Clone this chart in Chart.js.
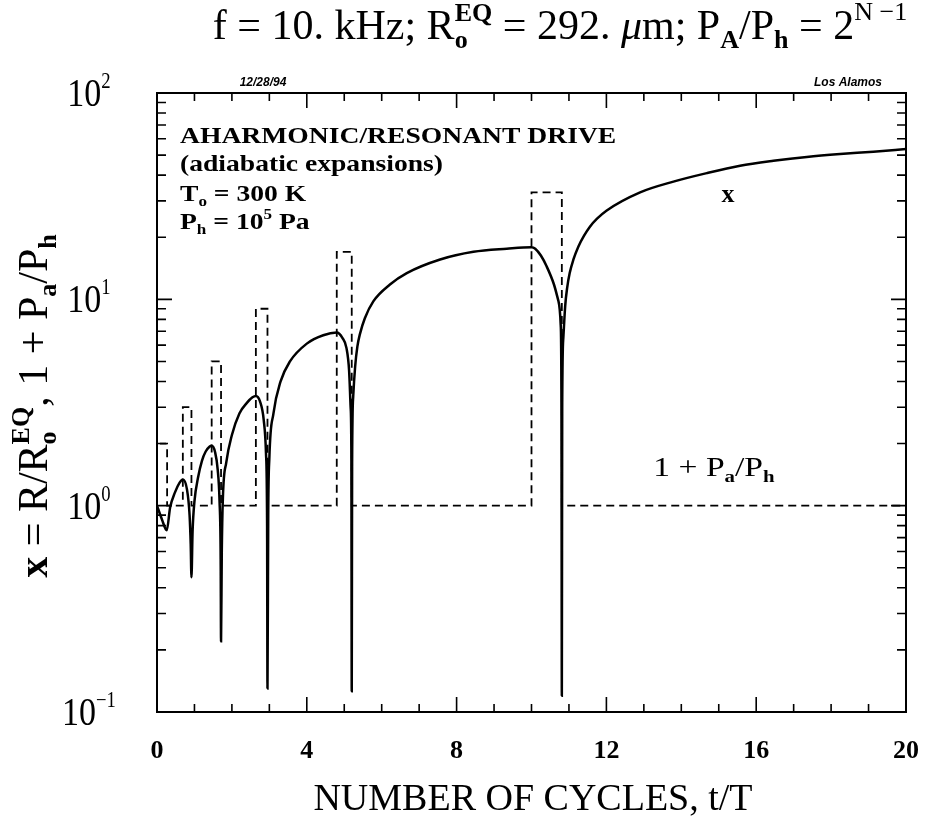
<!DOCTYPE html>
<html>
<head>
<meta charset="utf-8">
<script src="https://cdn.jsdelivr.net/npm/chart.js@4.4.1/dist/chart.umd.min.js"></script>
<style>
    html, body { margin: 0; padding: 0; background: #fff; }
    #wrap { width: 926px; height: 822px; }
</style>
</head>
<body>
<div id="wrap"><canvas id="bubbleChart" width="926" height="822"></canvas></div>
<script>
// --- data ---

// bubble radius x = R/Ro_EQ against t/T
const tCurve = [0, 0.13, 0.26, 0.35, 0.48, 0.6, 0.69, 0.8, 0.87, 0.9, 0.92, 0.95, 1.0, 1.1, 1.2, 1.3, 1.4, 1.46,
    1.55, 1.62, 1.67, 1.70, 1.71, 1.73, 1.76, 1.85, 2.0, 2.2, 2.4, 2.55, 2.64, 2.75, 2.85, 2.91, 2.94, 2.95,
    2.97, 3.0, 3.11, 3.3, 3.55, 4.0, 4.44, 4.8, 4.95, 5.06, 5.13, 5.17, 5.19, 5.2, 5.21, 5.24, 5.29, 5.35,
    5.42, 5.55, 5.78, 6.22, 6.67, 7.56, 8.45, 9.34, 10.0, 10.1, 10.25, 10.4, 10.6, 10.72, 10.78, 10.8, 10.81,
    10.82, 10.85, 10.9, 10.95, 11.02, 11.12, 11.25, 11.4, 11.56, 11.75, 12.0, 12.9, 13.79, 14.68, 15.57,
    16.46, 17.35, 18.24, 19.13, 20];
const xCurve = [1.0, 0.86, 0.76, 0.98, 1.16, 1.29, 1.34, 1.2, 0.9, 0.65, 0.45, 0.75, 1.05, 1.38, 1.65, 1.83, 1.93, 1.95,
    1.82, 1.5, 1.05, 0.55, 0.22, 0.6, 1.1, 1.62, 2.2, 2.8, 3.15, 3.35, 3.4, 3.2, 2.6, 1.8, 0.8, 0.13,
    0.9, 1.7, 2.8, 4.0, 5.0, 6.1, 6.7, 6.9, 6.5, 5.8, 4.5, 3.0, 1.8, 0.126, 1.6, 3.4, 4.7, 5.9,
    6.8, 8.1, 9.8, 11.8, 13.4, 15.6, 17.0, 17.6, 17.9, 17.6, 16.3, 14.5, 11.8, 9.8, 7.5, 3.0, 0.12,
    3.0, 6.5, 9.3, 11.3, 13.4, 15.6, 18.0, 20.3, 22.5, 24.6, 26.9, 33.0, 37.2, 40.9, 44.4,
    46.9, 49.0, 50.6, 51.9, 53.5];

// drive pulses: 1 + Pa/Ph, with Pa/Ph = 2^(N-1)
const pulseStart = [0, 0.69, 1.46, 2.64, 4.8, 10.0];
const pulseEnd = [0.27, 0.92, 1.71, 2.95, 5.2, 10.81];
const pulseLevel = [2, 3, 5, 9, 17, 33];
const driveBase = 1;
const tMax = 20;

// axis ticks
const xTickLabels = [0, 4, 8, 12, 16, 20];
const xMinorTicks = [1, 2, 3, 5, 6, 7, 9, 10, 11, 13, 14, 15, 17, 18, 19];
const yDecades = [0.1, 1, 10, 100];
const yDecadeExp = ['\u22121', '0', '1', '2'];

const SERIF = '"Liberation Serif", "Times New Roman", serif';

// step trace for the dashed drive curve
function buildDrive() {
    const pts = [];
    pulseStart.forEach((t0, i) => {
        pts.push({ x: t0, y: driveBase });
        pts.push({ x: t0, y: pulseLevel[i] });
        pts.push({ x: pulseEnd[i], y: pulseLevel[i] });
        pts.push({ x: pulseEnd[i], y: driveBase });
    });
    pts.push({ x: tMax, y: driveBase });
    return pts;
}

function fontStr(size, o) {
    return (o.italic ? 'italic ' : '') + (o.bold ? 'bold ' : '') + size + 'px ' + (o.family || SERIF);
}

// draws a run list with sub/superscripts; y is the baseline
function drawRich(ctx, runs, x, y, o) {
    const size = o.size;
    const small = size * (o.small || 0.62);
    const pieces = [];
    let w = 0;
    runs.forEach(r => {
        if (typeof r === 'string') r = { t: r };
        const st = Object.assign({}, o, r);
        if (r.stack) {
            ctx.font = fontStr(small, st);
            pieces.push({ t: r.stack[0], x: w, dy: -size * 0.42, s: small, st });
            pieces.push({ t: r.stack[1], x: w, dy: size * 0.22, s: small, st });
            w += Math.max(ctx.measureText(r.stack[0]).width, ctx.measureText(r.stack[1]).width);
        } else {
            const s = (r.sub || r.sup) ? small : size;
            ctx.font = fontStr(s, st);
            pieces.push({ t: r.t, x: w, dy: r.sub ? size * 0.22 : (r.sup ? -size * 0.45 : 0), s, st });
            w += ctx.measureText(r.t).width;
        }
    });
    ctx.save();
    ctx.translate(x, y);
    if (o.rot) ctx.rotate(o.rot);
    ctx.scale(o.sx || 1, o.sy || 1);
    const x0 = o.align === 'center' ? -w / 2 : (o.align === 'right' ? -w : 0);
    ctx.textAlign = 'left';
    ctx.textBaseline = 'alphabetic';
    ctx.fillStyle = '#000';
    pieces.forEach(p => {
        ctx.font = fontStr(p.s, p.st);
        ctx.fillText(p.t, x0 + p.x, p.dy);
    });
    ctx.restore();
}

// frame, inward ticks and all the lettering
const frameAndText = {
    id: 'frameAndText',
    afterDraw(chart) {
        const ctx = chart.ctx;
        const a = chart.chartArea;
        const xs = chart.scales.x, ys = chart.scales.y;

        ctx.save();
        ctx.strokeStyle = '#000';
        ctx.lineWidth = 2;
        ctx.strokeRect(a.left, a.top, a.right - a.left, a.bottom - a.top);

        ctx.lineWidth = 1.6;
        ctx.beginPath();
        const xTick = (v, len) => {
            const px = xs.getPixelForValue(v);
            ctx.moveTo(px, a.bottom); ctx.lineTo(px, a.bottom - len);
            ctx.moveTo(px, a.top); ctx.lineTo(px, a.top + len);
        };
        xTickLabels.forEach(v => xTick(v, 15));
        xMinorTicks.forEach(v => xTick(v, 8));
        const yTick = (v, len) => {
            const py = ys.getPixelForValue(v);
            ctx.moveTo(a.left, py); ctx.lineTo(a.left + len, py);
            ctx.moveTo(a.right, py); ctx.lineTo(a.right - len, py);
        };
        yDecades.forEach((d, i) => {
            yTick(d, 15);
            if (i < yDecades.length - 1) {
                for (let m = 2; m <= 9; m++) yTick(d * m, 9);
            }
        });
        ctx.stroke();
        ctx.restore();

        // tick labels
        xTickLabels.forEach(v => {
            drawRich(ctx, [String(v)], xs.getPixelForValue(v), 758, { size: 26, bold: true, align: 'center' });
        });
        yDecades.forEach((d, i) => {
            const py = ys.getPixelForValue(d);
            drawRich(ctx, ['10', { t: yDecadeExp[i], sup: true }], 89, py + 13,
                { size: 34, sy: 1.18, align: 'center', small: 0.55 });
        });

        // titles
        drawRich(ctx, ['f = 10. kHz; R', { stack: ['EQ', 'o'], bold: true }, ' = 292. ', { t: '\u03bc', italic: true },
            'm; P', { t: 'A', sub: true, bold: true }, '/P', { t: 'h', sub: true, bold: true }, ' = 2', { t: 'N \u22121', sup: true }],
            560, 39, { size: 42, align: 'center' });
        drawRich(ctx, ['NUMBER OF CYCLES, t/T'], 533, 810, { size: 38, align: 'center' });
        drawRich(ctx, [{ t: 'x', bold: true }, ' = R/R', { stack: ['EQ', 'o'], bold: true }, ', 1 + P',
            { t: 'a', sub: true, bold: true }, '/P', { t: 'h', sub: true, bold: true }],
            47, 406, { size: 42, align: 'center', rot: -Math.PI / 2 });

        // annotations inside the frame
        const note = { size: 23, bold: true, sx: 1.2 };
        drawRich(ctx, ['AHARMONIC/RESONANT DRIVE'], 180, 143, note);
        drawRich(ctx, ['(adiabatic expansions)'], 180, 171, note);
        drawRich(ctx, ['T', { t: 'o', sub: true }, ' = 300 K'], 180, 201, note);
        drawRich(ctx, ['P', { t: 'h', sub: true }, ' = 10', { t: '5', sup: true }, ' Pa'], 180, 229, note);
        drawRich(ctx, ['x'], 728, 202, { size: 26, bold: true, align: 'center' });
        drawRich(ctx, ['1 + P', { t: 'a', sub: true, bold: true }, '/P', { t: 'h', sub: true, bold: true }],
            714, 476, { size: 28, align: 'center', sx: 1.2 });

        // plot stamps
        const stamp = { size: 12, bold: true, italic: true, family: '"Liberation Sans", Arial, sans-serif', align: 'center' };
        drawRich(ctx, ['12/28/94'], 263, 86, stamp);
        drawRich(ctx, ['Los Alamos'], 848, 86, stamp);
    }
};

function initChart() {
    const ctx = document.getElementById('bubbleChart').getContext('2d');

    new Chart(ctx, {
        type: 'line',
        data: {
            datasets: [{
                label: 'x',
                data: tCurve.map((t, i) => ({ x: t, y: xCurve[i] })),
                borderColor: '#000',
                borderWidth: 2.5,
                pointRadius: 0,
                fill: false,
                cubicInterpolationMode: 'monotone'
            }, {
                label: '1 + Pa/Ph',
                data: buildDrive(),
                borderColor: '#000',
                borderWidth: 1.8,
                borderDash: [8, 5],
                pointRadius: 0,
                fill: false,
                tension: 0
            }]
        },
        options: {
            responsive: false,
            animation: false,
            devicePixelRatio: 1,
            layout: { padding: { left: 157, right: 20, top: 93, bottom: 110 } },
            plugins: {
                legend: { display: false },
                title: { display: false },
                tooltip: { enabled: false }
            },
            scales: {
                x: { type: 'linear', min: 0, max: tMax, display: false },
                y: { type: 'logarithmic', min: 0.1, max: 100, display: false }
            }
        },
        plugins: [frameAndText]
    });
}

document.addEventListener('DOMContentLoaded', initChart);
</script>
</body>
</html>
